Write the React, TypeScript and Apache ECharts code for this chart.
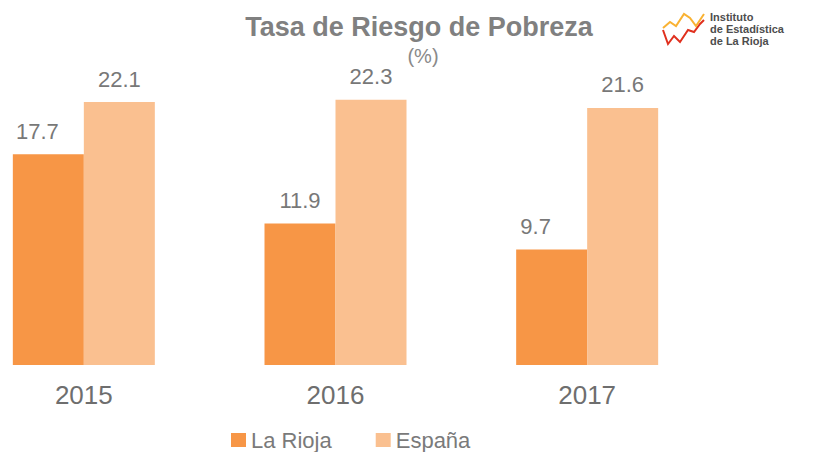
import React, { useEffect, useRef } from "react";
import * as echarts from "echarts";

const categories = ["2015", "2016", "2017"];
const laRioja = [17.7, 11.9, 9.7];
const espana = [22.1, 22.3, 21.6];
const seriesNames = ["La Rioja", "España"];

// horizontal nudges of the La Rioja value labels, as placed in the reference
const riojaLabelShift = [-11, 0, -16];

const OFF = 42;

export default function App() {
  const ref = useRef<HTMLDivElement>(null);
  useEffect(() => {
    document.body.style.margin = "0";
    document.body.style.overflow = "hidden";
    const chart = echarts.init(ref.current!, null, { renderer: "svg" });
    const font = "'Liberation Sans', Arial, sans-serif";
    const label = {
      show: true,
      position: "top",
      distance: 12,
      fontSize: 22,
      color: "#787878",
      fontFamily: font,
      formatter: (p: any) => Number(p.value).toFixed(1),
    };
    chart.setOption({
      animation: false,
      title: [
        {
          text: "Tasa de Riesgo de Pobreza",
          left: 419 + OFF,
          textAlign: "center",
          top: 10,
          padding: 0,
          textStyle: { fontSize: 27, fontWeight: "bold", color: "#808080", fontFamily: font, lineHeight: 34 },
        },
        {
          text: "(%)",
          left: 423 + OFF,
          textAlign: "center",
          top: 45,
          padding: 0,
          textStyle: { fontSize: 20, fontWeight: "normal", color: "#8a8a8a", fontFamily: font, lineHeight: 22 },
        },
      ],
      legend: {
        top: 424,
        left: 226 + OFF,
        itemWidth: 15,
        itemHeight: 14,
        itemGap: 44,
        icon: "rect",
        textStyle: { fontSize: 22, color: "#7a7a7a", fontFamily: font },
        data: seriesNames,
      },
      grid: { left: 0, width: 755, top: 8, bottom: 87 },
      xAxis: {
        type: "category",
        data: categories,
        axisLine: { show: false },
        axisTick: { show: false },
        axisLabel: { fontSize: 26, color: "#6e6e6e", margin: 17, fontFamily: font },
      },
      yAxis: { type: "value", min: 0, max: 30, show: false, splitLine: { show: false } },
      series: [
        {
          name: seriesNames[0],
          type: "bar",
          data: laRioja.map((v, i) => ({ value: v, label: { offset: [riojaLabelShift[i], 0] } })),
          barWidth: 71,
          barGap: "0%",
          itemStyle: { color: "#F79646" },
          label,
        },
        {
          name: seriesNames[1],
          type: "bar",
          data: espana,
          barWidth: 71,
          barGap: "0%",
          itemStyle: { color: "#FAC090" },
          label,
        },
      ],
      graphic: [
        {
          type: "polyline",
          x: OFF,
          shape: { points: [[663, 30], [668, 44], [674, 36], [680, 42], [688, 30], [694, 32], [700, 24], [704, 20]] },
          style: { stroke: "#E0301E", lineWidth: 2, fill: null },
        },
        {
          type: "polyline",
          x: OFF,
          shape: { points: [[663, 28], [670, 22], [676, 26], [684, 14], [690, 18], [696, 26], [700, 20], [704, 14]] },
          style: { stroke: "#F9B233", lineWidth: 2, fill: null },
        },
        {
          type: "text",
          left: 710 + OFF,
          top: 11,
          style: {
            text: "Instituto\nde Estadística\nde La Rioja",
            font: "bold 11px 'Liberation Sans', Arial, sans-serif",
            fill: "#4d4d4d",
            lineHeight: 12,
          },
        },
      ],
    });
    return () => chart.dispose();
  }, []);
  return <div ref={ref} style={{ width: 814 + OFF, height: 452, marginLeft: -OFF }} />;
}
